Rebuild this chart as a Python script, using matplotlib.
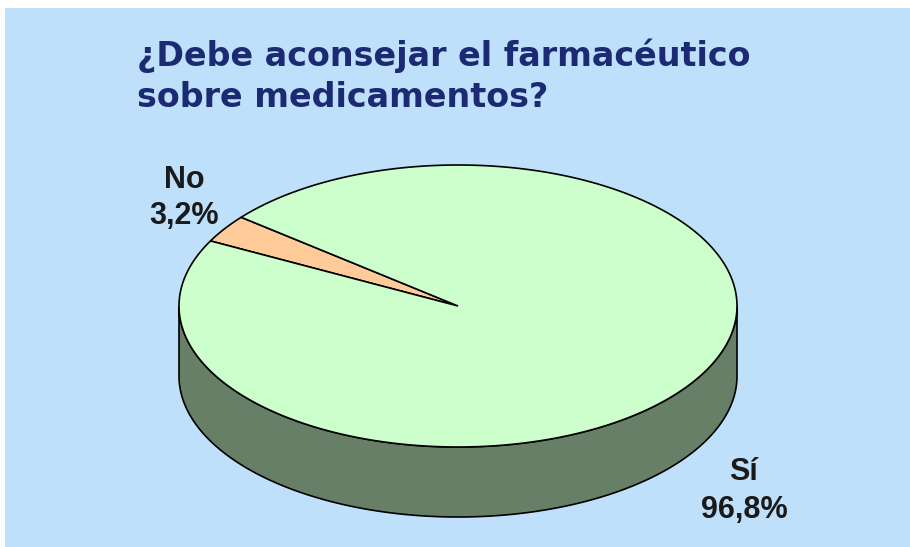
import numpy as np
import matplotlib
matplotlib.use("Agg")
import matplotlib.pyplot as plt
from matplotlib.patches import Polygon, Rectangle

# Data
categories = ["Sí", "No"]
values = [96.8, 3.2]
names = ["Sí", "No"]
pct_labels = ["96,8%", "3,2%"]
title_lines = ["¿Debe aconsejar el farmacéutico", "sobre medicamentos?"]

W, H = 910, 547
fig = plt.figure(figsize=(W / 100, H / 100), dpi=100)
ax = fig.add_axes([0, 0, 1, 1])
ax.set_xlim(0, W)
ax.set_ylim(H, 0)
ax.axis("off")
fig.patch.set_facecolor("white")

ax.add_patch(Rectangle((5, 8), W - 5, H - 8, facecolor="#BFE0FA", edgecolor="none", zorder=0))

# 3D pie geometry
cx, cy, rx, ry, depth = 458, 306, 279, 141, 70
top_color = {"Sí": "#CCFFCC", "No": "#FFCC99"}
side_color = "#667F66"

def pt(t, dy=0):
    return cx + rx * np.cos(t), cy - ry * np.sin(t) + dy

# side (lower half)
t = np.linspace(np.pi, 2 * np.pi, 300)
x1, y1 = pt(t)
x2, y2 = pt(t[::-1], depth)
side = np.column_stack([np.concatenate([x1, x2]), np.concatenate([y1, y2])])
ax.add_patch(Polygon(side, closed=True, facecolor=side_color, edgecolor="black", lw=1.2, zorder=1))

# top slices: No slice starts at ~141 deg (parametric), counter-clockwise
total = sum(values)
start = np.deg2rad(141.0)
order = ["No", "Sí"]
vals = dict(zip(categories, values))
for name in order:
    span = 2 * np.pi * vals[name] / total
    tt = np.linspace(start, start + span, 400)
    xs, ys = pt(tt)
    poly = np.column_stack([np.concatenate([[cx], xs]), np.concatenate([[cy], ys])])
    ax.add_patch(Polygon(poly, closed=True, facecolor=top_color[name], edgecolor="black", lw=1.2, zorder=2))
    start += span

lab_pos = {"No": (184, 188, 224), "Sí": (744, 480, 518)}
for nm, pl in zip(names, pct_labels):
    x, yb1, yb2 = lab_pos[nm]
    kw = dict(ha="center", va="baseline", fontsize=22, fontweight="bold",
              family="Liberation Sans", color="#1A1A1A", zorder=3)
    ax.text(x, yb1, nm, **kw)
    ax.text(x, yb2, pl, **kw)

for line, yb in zip(title_lines, [66, 107]):
    ax.text(137, yb, line, ha="left", va="baseline", fontsize=24, fontweight="bold",
            family="DejaVu Sans", color="#1B2A72", zorder=3)

fig.savefig("out.png", dpi=100, facecolor="white")
